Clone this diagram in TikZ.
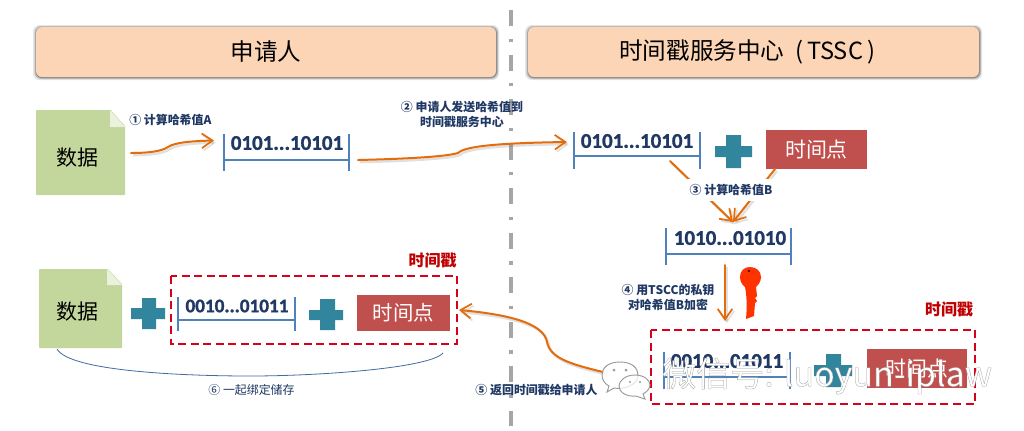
\documentclass[tikz,border=0pt]{standalone}
\usepackage{fontspec}
\setmainfont{Noto Sans CJK SC}
\newfontfamily\latinb[FakeBold=1.3]{Carlito Bold}
\usetikzlibrary{arrows.meta,calc}
\definecolor{hdr}{HTML}{FBD5B5}
\definecolor{docg}{HTML}{C3D69B}
\definecolor{ink}{HTML}{1F3864}
\definecolor{brk}{HTML}{4F81BD}
\definecolor{teal}{HTML}{31859C}
\definecolor{tred}{HTML}{C0504D}
\definecolor{dred}{HTML}{D8001A}
\definecolor{wred}{HTML}{C00000}
\definecolor{org}{HTML}{E46C0A}
\definecolor{keyc}{HTML}{FF3300}
\def\px{*0.75pt}
\tikzset{
  x=0.75pt,y=-0.75pt,
  headbox/.style={fill=hdr,rounded corners=4.5pt,inner sep=0pt,text=black,font=\fontsize{17.7pt}{20pt}\selectfont},
  docbox/.style={fill=docg,inner sep=0pt,rounded corners=0.7pt,text=black,font=\fontsize{15.75pt}{18pt}\selectfont},
  timebox/.style={fill=tred,inner sep=0pt,text=white,font=\fontsize{15.7pt}{18pt}\selectfont},
  bits/.style={text=ink,inner sep=0pt,font=\latinb\fontsize{15.7pt}{17pt}\selectfont},
  bitssmall/.style={bits,font=\latinb\fontsize{14.4pt}{16pt}\selectfont},
  brack/.style={draw=brk,line width=1.6pt},
  pluscol/.style={fill=teal},
  lab/.style={text=ink,inner sep=0pt,align=center,font=\bfseries\fontsize{8.95pt}{11.2pt}\selectfont},
  labthin/.style={text=ink,inner sep=0pt,align=center,font=\fontsize{8.95pt}{11.2pt}\selectfont},
  stamp/.style={text=wred,inner sep=0pt,font=\bfseries\fontsize{12pt}{14pt}\selectfont},
  stampbox/.style={draw=dred,line width=1.6pt,dash pattern=on 6pt off 3.4pt},
  flow/.style={draw=org,line width=1.5pt,line cap=round,
    -{Straight Barb[length=8pt,width=11pt,line width=1.3pt]},
    preaction={draw=black!55,opacity=.22,line width=1.8pt,transform canvas={shift={(1.4pt,-1.6pt)}}}},
  chat/.style={draw=black!40,line width=0.7pt,fill=white,fill opacity=.75},
}
\newcommand{\hashbar}[6]{% name, x1, x2, ytop, ybar, ybot
  \coordinate (#1tl) at (#2,#4); \coordinate (#1ml) at (#2,#5); \coordinate (#1bl) at (#2,#6);
  \coordinate (#1tr) at (#3,#4); \coordinate (#1mr) at (#3,#5); \coordinate (#1br) at (#3,#6);
  \draw[brack] (#1tl) -- (#1bl) (#1tr) -- (#1br) (#1ml) -- (#1mr);
}
\newcommand{\plusat}[9]{% x1 x2 x3 x4 y1 y2 y3 y4 name
  \fill[pluscol] (#2,#5) -- (#3,#5) -- (#3,#6) -- (#4,#6) -- (#4,#7) -- (#3,#7) -- (#3,#8) -- (#2,#8) -- (#2,#7) -- (#1,#7) -- (#1,#6) -- (#2,#6) -- cycle;
  \coordinate (#9) at (#1,#5);
}
\begin{document}
\begin{tikzpicture}
\useasboundingbox (0,0) rectangle (1024,430);
\fill[white] (0,0) rectangle (1024,430);

% centre line
\coordinate (ctop) at (511,10);
\coordinate (cbot) at (511,426);
\draw[black!35,line width=3pt,dash pattern=on 12pt off 9.5pt on 2.4pt off 9.5pt] (ctop) -- (cbot);

% header shadows and headers
\foreach \a/\b in {33/499,525/982}{
  \fill[black,opacity=.10,rounded corners=5pt] (\a,25) rectangle (\b,80);
  \fill[black,opacity=.18,rounded corners=5pt] (\a+1.5,26) rectangle (\b-1,79);
  \fill[black,opacity=.28,rounded corners=5pt] (\a+2.5,27) rectangle (\b-2,78);
}
\node[headbox,minimum width=460\px,minimum height=50\px] (h1) at (266,52) {申请人};
\node[headbox,minimum width=451\px,minimum height=50\px] (h2) at (753.5,52) {\hspace*{-9pt}时间戳服务中心\hspace{8pt}(\hspace{3pt}TSSC\hspace{3.5pt})};

% upper data document
\node[docbox,minimum width=89\px,minimum height=85\px] (doc1) at (80.5,152.5) {\hspace*{-5.25pt}\raisebox{-3.75pt}[\height][\depth]{数据}};
\fill[white] (110,109) -- (126,109) -- (126,127) -- cycle;
\fill[docg!35!white] (110,110) -- (125,127) -- (110,127) -- cycle;

% first hash
\hashbar{ha}{224}{349}{134}{160}{171}
\node[bits] (hat) at (287,143) {0101...10101};
\coordinate (a1s) at (131,153);
\coordinate (a1e) at (214,140.5);
\draw[flow] (a1s) .. controls (150,153) and (162,151) .. (168,147) .. controls (175,142) and (195,141) .. (a1e);
\node[lab,anchor=west] (l1) at (129,120) {① 计算哈希值A};

% second arrow
\coordinate (a2s) at (358,160);
\coordinate (a2e) at (567,142);
\draw[flow] (a2s) .. controls (400,159) and (445,157) .. (458,153) .. controls (465,146) and (500,143) .. (a2e);
\node[lab] (l2) at (462,114.5) {② 申请人发送哈希值到\\时间戳服务中心};

% right upper row
\hashbar{hb}{574}{700}{132}{156}{169}
\node[bits] (hbt) at (637,141) {0101...10101};
\plusat{715}{726}{741}{752}{135}{146}{157}{168}{p1}
\node[timebox,minimum width=101\px,minimum height=39\px] (t1) at (816.5,149.5) {时间点};

% step 3
\coordinate (a3a) at (670,161);
\coordinate (a3b) at (775,169);
\coordinate (a3e) at (733,222);
\draw[flow] (a3a) -- (a3e);
\draw[flow] (a3b) -- (a3e);
\node[lab,fill=white,inner xsep=3pt,inner ysep=4pt] (l3) at (731,190) {③ 计算哈希值B};

% second hash
\hashbar{hc}{666}{791}{228}{254}{265}
\node[bits] (hct) at (730,238) {1010...01010};

% step 4
\coordinate (a4s) at (725,265);
\coordinate (a4e) at (725,321);
\draw[flow] (a4s) -- (a4e);
\node[lab] (l4) at (668,297.5) {④ 用TSCC的私钥\\对哈希值B加密};

% key
\fill[keyc] (750,267) .. controls (756,267) and (761,271) .. (761,277)
  .. controls (761,282) and (758,285) .. (756,287) -- (757,296) -- (755,298) -- (757,301) -- (755,303) -- (754,316) -- (746,319)
  .. controls (747,308) and (747,297) .. (745,287)
  .. controls (742,285) and (740,281) .. (740,277)
  .. controls (740,271) and (744,267) .. (750,267) -- cycle;
\fill[black!70!keyc] (749,271) circle (1.3);

% right time stamp
\node[stamp] (s2) at (949,309) {时间戳};
\draw[stampbox] (651,330) rectangle (975,404);
\coordinate (s2l) at (651,367);
\hashbar{hd}{664}{790}{352}{377}{389}
\node[bits] (hdt) at (727,361) {0010...01011};
\plusat{814}{826}{841}{852}{354}{365}{376}{387}{p2}
\node[timebox,minimum width=100\px,minimum height=39\px] (t2) at (917,368.5) {时间点};

% lower data document
\node[docbox,minimum width=83\px,minimum height=79\px] (doc2) at (80.5,308.5) {\hspace*{-5.25pt}\raisebox{-2.5pt}[\height][\depth]{数据}};
\fill[white] (107,268) -- (123,268) -- (123,285) -- cycle;
\fill[docg!35!white] (107,269) -- (122,285) -- (107,285) -- cycle;
\plusat{131}{142}{156}{165}{298}{308}{319}{329}{p3}

% left time stamp
\node[stamp] (s1) at (432.5,260) {时间戳};
\draw[stampbox] (171,276) rectangle (457,344);
\hashbar{he}{178}{295}{297}{320}{331}
\node[bitssmall] (het) at (237,306) {0010...01011};
\plusat{309}{320}{335}{343}{299}{310}{320}{330}{p4}
\node[timebox,minimum width=93\px,minimum height=36\px,font=\fontsize{15.3pt}{18pt}\selectfont] (t3) at (403.5,313) {时间点};

% step 5
\coordinate (a5s) at (603,372);
\coordinate (a5e) at (459,310);
\draw[flow] (a5s) .. controls (570,364) and (550,358) .. (547,342) .. controls (544,325) and (515,315) .. (a5e);
\node[lab] (l5) at (536.5,390) {⑤ 返回时间戳给申请人};

% step 6
\coordinate (b1) at (57,349);
\coordinate (b2) at (443,353);
\draw[draw=brk!70!ink,line width=0.6pt] (b1) .. controls (70,372) and (190,376) .. (250,376) .. controls (320,376) and (430,368) .. (b2);
\node[labthin] (l6) at (251.5,390) {⑥ 一起绑定储存};

% watermark
\draw[chat] (620,362) .. controls (608,362) and (602,368) .. (602,375) .. controls (602,380) and (605,384) .. (609,386) -- (607,392) -- (614,388) .. controls (624,390) and (638,385) .. (638,375) .. controls (638,368) and (632,362) .. (620,362) -- cycle;
\draw[chat] (635,375) .. controls (625,375) and (619,381) .. (619,386) .. controls (619,392) and (626,397) .. (636,396) -- (645,399) -- (643,394) .. controls (648,391) and (650,388) .. (650,385) .. controls (650,380) and (644,375) .. (635,375) -- cycle;
\fill[black!40] (614,370) circle (1.5) (626,370) circle (1.5) (630,382) circle (1.2) (640,382) circle (1.2);
\node[inner sep=0pt,anchor=west,text=white,font=\fontsize{25.5pt}{28pt}\selectfont] (wm) at (662,376)
  {\special{pdf:code 2 Tr 0.2 w 0.6 G}微信号: luoyun-iplaw\special{pdf:code 0 Tr}};
\end{tikzpicture}
\end{document}
